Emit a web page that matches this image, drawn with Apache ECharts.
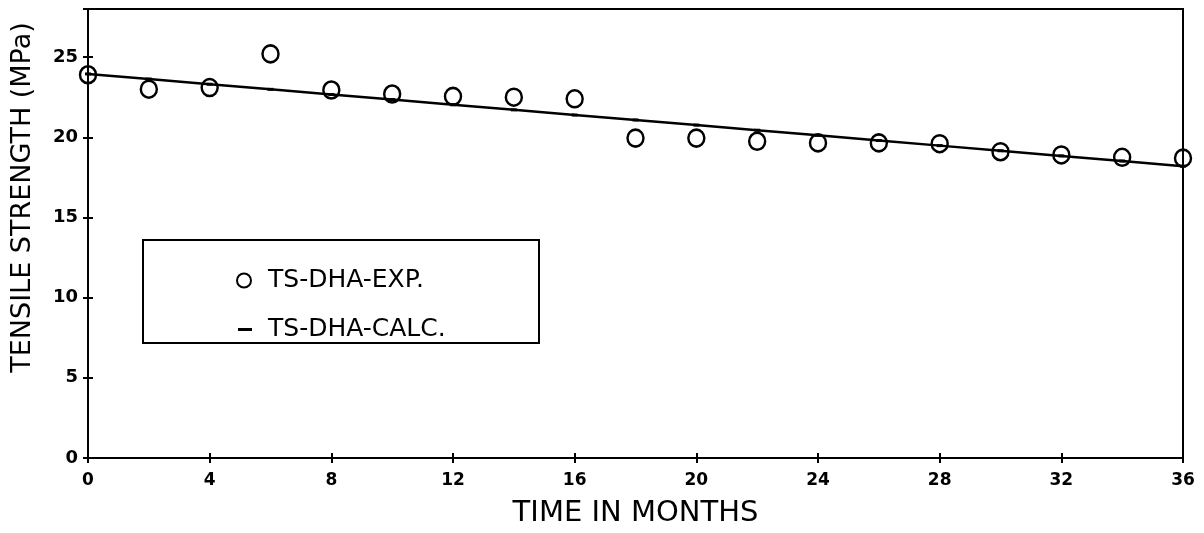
<!DOCTYPE html>
<html>
<head>
<meta charset="utf-8">
<script src="https://cdn.jsdelivr.net/npm/echarts@6/dist/echarts.min.js"></script>
<style>html,body{margin:0;padding:0;background:#fff;}#c{width:1204px;height:533px;}</style>
</head>
<body>
<div id="c"></div>
<script>
// months
const months = [0,2,4,6,8,10,12,14,16,18,20,22,24,26,28,30,32,34,36];
// experimental tensile strength (MPa)
const expValues = [23.9,23.0,23.1,25.2,22.95,22.7,22.55,22.5,22.4,19.95,19.95,19.75,19.65,19.65,19.6,19.1,18.9,18.75,18.7];
// calculated tensile strength (MPa)
const calcValues = [23.95,23.63,23.31,22.99,22.67,22.35,22.03,21.71,21.39,21.08,20.76,20.44,20.12,19.80,19.48,19.16,18.84,18.52,18.20];
const xTicks = [0,4,8,12,16,20,24,28,32,36];
const yTicks = [0,5,10,15,20,25];
const expName = 'TS-DHA-EXP.';
const calcName = 'TS-DHA-CALC.';
const xTitle = 'TIME IN MONTHS';
const yTitle = 'TENSILE STRENGTH (MPa)';

const expData = months.map((m,i)=>[m, expValues[i]]);
const calcData = months.map((m,i)=>[m, calcValues[i]]);

const chart = echarts.init(document.getElementById('c'), null, {renderer:'canvas'});
const F = '"DejaVu Sans", sans-serif';
const labelX = {show:true, fontFamily:F, fontWeight:'bold', fontSize:17, color:'#000', margin:14,
  formatter: v => xTicks.indexOf(v) >= 0 ? String(v) : ''};
const labelY = {show:true, fontFamily:F, fontWeight:'bold', fontSize:18, color:'#000', margin:10,
  formatter: v => yTicks.indexOf(v) >= 0 ? String(v) : ''};
const axLine = {show:true, onZero:false, lineStyle:{color:'#000', width:2}};
const tickStyle = {color:'#000', width:2};

chart.setOption({
  animation:false,
  backgroundColor:'#fff',
  grid:{left:88, right:21, top:9, bottom:70, show:true, borderColor:'#000', borderWidth:2},
  xAxis:[
    {type:'value', min:0, max:36, interval:4, position:'bottom',
     axisLine:axLine, axisTick:{show:true, length:5, lineStyle:tickStyle},
     axisLabel:labelX, splitLine:{show:false},
     name:xTitle, nameLocation:'middle', nameGap:41,
     nameTextStyle:{fontFamily:F, fontSize:29, color:'#000'}},
    {type:'value', min:0, max:36, interval:4, position:'bottom', offset:0,
     axisLine:{show:false, onZero:false}, axisTick:{show:true, inside:true, length:5, lineStyle:tickStyle},
     axisLabel:{show:false}, splitLine:{show:false}}
  ],
  yAxis:[
    {type:'value', min:0, max:28, interval:5, position:'left',
     axisLine:axLine, axisTick:{show:true, length:5, lineStyle:tickStyle},
     axisLabel:labelY, splitLine:{show:false},
     name:yTitle, nameLocation:'middle', nameGap:52,
     nameTextStyle:{fontFamily:F, fontSize:27, color:'#000', padding:[0,0,0,72]}},
    {type:'value', min:0, max:28, interval:5, position:'left', offset:0,
     axisLine:{show:false, onZero:false}, axisTick:{show:true, inside:true, length:5, lineStyle:tickStyle},
     axisLabel:{show:false}, splitLine:{show:false}}
  ],
  legend:[
    {data:[{name:expName, icon:'circle'}],
     left:231, top:263, itemWidth:14, itemHeight:14, itemGap:0,
     itemStyle:{color:'transparent', borderColor:'#000', borderWidth:2},
     textStyle:{fontFamily:F, fontSize:25, color:'#000', padding:[0,0,0,12]}},
    {data:[{name:calcName, icon:'rect'}],
     left:233, top:312, itemWidth:14, itemHeight:3, itemGap:0,
     itemStyle:{color:'#000', borderWidth:0},
     textStyle:{fontFamily:F, fontSize:25, color:'#000', padding:[0,0,0,11]}}
  ],
  graphic:[
    {type:'rect', shape:{x:143, y:240, width:396, height:103},
     style:{fill:'none', stroke:'#000', lineWidth:2}, z:10}
  ],
  series:[
    {name:calcName, type:'line', xAxisIndex:0, yAxisIndex:0, data:calcData,
     symbol:'rect', symbolSize:[6,3], showSymbol:true,
     lineStyle:{color:'#000', width:2.5}, itemStyle:{color:'#000'}, z:2},
    {name:expName, type:'scatter', xAxisIndex:0, yAxisIndex:0, data:expData,
     symbol:'circle', symbolSize:[16,17],
     itemStyle:{color:'transparent', borderColor:'#000', borderWidth:2.5, opacity:1}, z:3}
  ]
});
</script>
</body>
</html>
